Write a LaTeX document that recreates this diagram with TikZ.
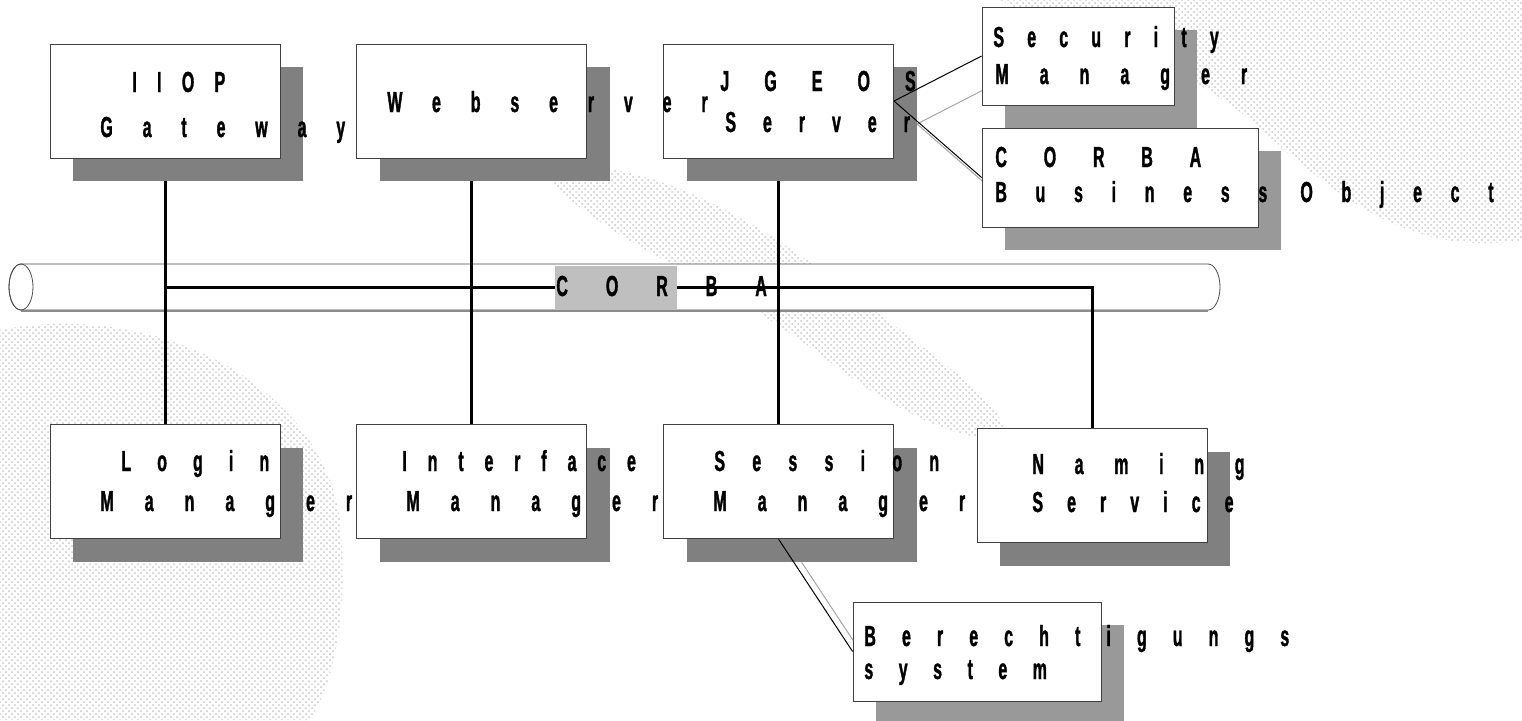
\documentclass[tikz,border=0pt]{standalone}
\usepackage{fontspec}
\newfontfamily\lblfont{Liberation Sans}[FakeStretch=0.55,FakeBold=1.2]
\usetikzlibrary{positioning,shadows,patterns}
\pgfdeclarelayer{bg}
\pgfsetlayers{bg,main}

\begin{document}
\begin{tikzpicture}[
  x=0.5pt,y=-0.5pt,
  node distance=38pt,
  box/.style={rectangle,draw=black!75,fill=white,inner sep=0pt,minimum width=115pt,minimum height=57pt},
  dark/.style={drop shadow={shadow xshift=11.5pt,shadow yshift=-11.5pt,fill=black!50,opacity=1}},
  pale/.style={drop shadow={shadow xshift=11.5pt,shadow yshift=-11.5pt,fill=black!40,opacity=1}},
  lbl/.style={anchor=base west,inner sep=0pt,font=\lblfont\bfseries\fontsize{14.5}{16}\selectfont\addfontfeature{LetterSpace=#1}},
  bus/.style={line width=1.5pt},
  link/.style={line width=0.5pt},
  linkshadow/.style={line width=0.5pt,black!35},
  texture/.style={pattern=crosshatch dots,pattern color=black!22}
]
\useasboundingbox (0,0) rectangle (1522,720);

% boxes, top row
\node[box,dark] (iiop) at (165,101) {};
\node[box,dark,right=of iiop] (websrv) {};
\node[box,dark,right=of websrv] (jgeos) {};
\node[box,pale,minimum width=96pt,minimum height=49pt] (secmgr) at (1078,56) {};
\node[box,pale,minimum width=138pt,minimum height=49.5pt] (cbo) at (1120,177.5) {};

% boxes, bottom row
\node[box,dark,below=133pt of iiop] (login) {};
\node[box,dark,right=of login] (iface) {};
\node[box,dark,right=of iface] (sessmgr) {};
\node[box,dark,right=41.5pt of sessmgr,yshift=-2pt] (naming) {};
\node[box,pale,minimum width=124pt,minimum height=49.5pt] (berecht) at (977,651.5) {};

\node[fill=black!25,minimum width=61pt,minimum height=21.5pt,inner sep=0pt] (buslbl) at (616,287.5) {};

\begin{pgfonlayer}{bg}
  % background texture
  \fill[texture] (0,330) .. controls (150,300) and (320,380) .. (340,520)
    .. controls (350,620) and (330,690) .. (310,720) -- (0,720) -- cycle;
  \fill[texture] (540,170) .. controls (640,150) and (760,220) .. (860,300)
    .. controls (940,360) and (1000,400) .. (1010,440)
    .. controls (940,440) and (880,400) .. (800,340)
    .. controls (700,270) and (600,240) .. cycle;
  \fill[texture] (1000,0) -- (1522,0) -- (1522,240)
    .. controls (1400,260) and (1320,180) .. (1250,120)
    .. controls (1180,60) and (1080,40) .. cycle;
  % CORBA pipe
  \draw[black!70,fill=white] (21,264) -- (1208,264)
    arc[start angle=90,end angle=-90,x radius=6pt,y radius=11.5pt]
    -- (21,310) arc[start angle=270,end angle=90,x radius=6pt,y radius=11.5pt] -- cycle;
  \draw[black!45,line width=1pt] (21,311) -- (1208,311);
  \draw[black!70] (21,287) ellipse[x radius=6pt,y radius=11.5pt];
  \coordinate (busaxis) at (600,287);
  \draw[bus] (iiop.south) -- (login.north);
  \draw[bus] (websrv.south) -- (iface.north);
  \draw[bus] (jgeos.south) -- (sessmgr.north);
  \draw[bus] (iiop.south |- busaxis) -| (naming.north);
  \draw[linkshadow] ([shift={(23,23)}]jgeos.east) -- ([shift={(23,23)}]secmgr.west);
  \draw[linkshadow] ([shift={(23,23)}]jgeos.east) -- ([shift={(23,23)}]cbo.west);
  \draw[linkshadow] ([shift={(23,23)}]sessmgr.south) -- ([shift={(23,23)}]berecht.west);
\end{pgfonlayer}

\draw[link] (jgeos.east) -- (secmgr.west);
\draw[link] (jgeos.east) -- (cbo.west);
\draw[link] (sessmgr.south) -- (berecht.west);

% labels
\node[lbl=70] (iiopA) at (132,92) {IIOP};
\node[lbl=103] (iiopB) at (100,137) {Gateway};
\node[lbl=103] (websrvA) at (387,112) {Webserver};
\node[lbl=121] (jgeosA) at (720,91) {JGEOS};
\node[lbl=93] (jgeosB) at (725,132) {Server};
\node[lbl=80] (secA) at (993,47) {Security};
\node[lbl=107] (secB) at (995,84) {Manager};
\node[lbl=127] (cboA) at (995,167) {CORBA};
\node[lbl=99] (cboB) at (995,202) {Business Object};
\node[lbl=131] (busA) at (556,296) {CORBA};
\node[lbl=90] (loginA) at (121,471) {Login};
\node[lbl=107] (loginB) at (100,511) {Manager};
\node[lbl=72] (ifaceA) at (402,471) {Interface};
\node[lbl=107] (ifaceB) at (406,511) {Manager};
\node[lbl=94] (sessA) at (714,471) {Session};
\node[lbl=107] (sessB) at (713,511) {Manager};
\node[lbl=106] (namingA) at (1032,474) {Naming};
\node[lbl=83] (namingB) at (1032,512) {Service};
\node[lbl=90] (berechtA) at (864,646) {Berechtigungs};
\node[lbl=88] (berechtB) at (864,679) {system};
\end{tikzpicture}
\end{document}
